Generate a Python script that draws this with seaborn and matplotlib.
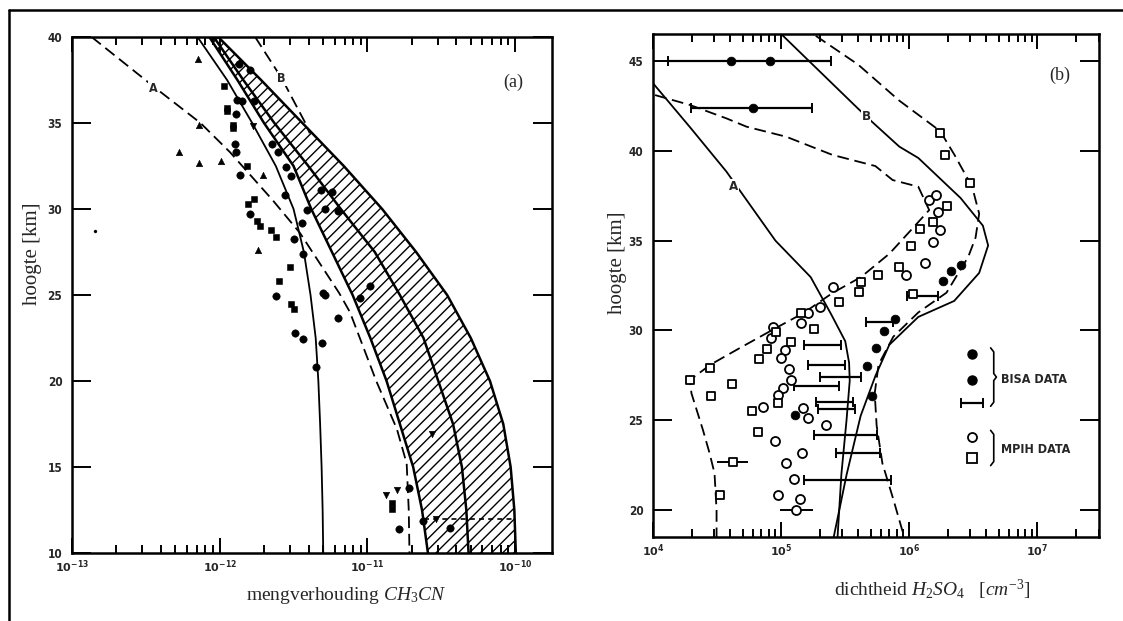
import numpy as np
import matplotlib
matplotlib.use("Agg")
import matplotlib.pyplot as plt
from matplotlib.lines import Line2D
from matplotlib.ticker import LogLocator, NullFormatter
import seaborn as sns

# ---------------------------------------------------------------- data
# (a) CH3CN mixing ratio, log10 values against altitude in km
ch3cn_km = [40, 37.5, 35, 32.5, 30, 27.5, 25, 22.5, 20, 17.5, 15, 12.5, 10]
ch3cn_c = [-12.15, -11.95, -11.78, -11.62, -11.50, -11.43, -11.385, -11.35,
           -11.332, -11.32, -11.31, -11.303, -11.299]
ch3cn_lo = [-12.07, -11.88, -11.70, -11.50, -11.38, -11.24, -11.10, -10.98,
            -10.87, -10.78, -10.69, -10.63, -10.59]
ch3cn_mid = [-12.04, -11.84, -11.63, -11.40, -11.18, -10.95, -10.78, -10.62,
             -10.52, -10.42, -10.36, -10.33, -10.315]
ch3cn_hi = [-12.01, -11.72, -11.44, -11.16, -10.90, -10.67, -10.46, -10.30,
            -10.17, -10.08, -10.03, -10.005, -9.995]
ch3cn_a_km = [40, 37, 35, 33.3, 30.5, 28.6, 25.1, 24, 20, 17.2, 15.2, 12.5, 10]
ch3cn_a = [-12.867, -12.43, -12.13, -11.93, -11.64, -11.456, -11.19, -11.118,
           -10.94, -10.80, -10.734, -10.72, -10.715]
ch3cn_b_km = [40, 37.6, 35, 34.4]
ch3cn_b = [-11.76, -11.58, -11.42, -11.39]
ch3cn_h_km = [12.0, 12.0]
ch3cn_h = [-10.62, -10.0]

obs_circle_x = [-11.87, -11.795, -11.885, -11.85, -11.77, -11.89, -11.896,
                -11.89, -11.648, -11.603, -11.55, -11.52, -11.86, -11.558,
                -11.407, -11.795, -11.44, -11.50, -11.438, -11.298, -11.62,
                -11.29, -11.20, -11.49, -11.434, -11.31, -11.35, -11.316,
                -11.24, -11.287, -11.197, -11.05, -10.98, -10.717, -10.785,
                -10.626, -10.44]
obs_circle_y = [38.43, 38.08, 36.36, 36.3, 36.3, 35.5, 33.8, 33.3, 33.8, 33.3,
                32.45, 31.9, 32.0, 30.8, 29.95, 29.7, 29.2, 28.25, 27.4, 25.1,
                24.94, 25.0, 23.64, 22.8, 22.44, 22.22, 20.83, 31.1, 31.0,
                29.98, 29.9, 24.84, 25.5, 13.76, 11.38, 11.88, 11.44]
obs_square_x = [-11.97, -11.953, -11.953, -11.908, -11.908, -11.813, -11.77,
                -11.805, -11.75, -11.73, -11.65, -11.62, -11.524, -11.597,
                -11.52, -11.50, -10.836, -10.836]
obs_square_y = [37.15, 35.9, 35.7, 34.9, 34.7, 32.5, 30.6, 30.3, 29.3, 29.0,
                28.8, 28.4, 26.6, 25.8, 24.5, 24.2, 12.9, 12.55]
obs_tri_x = [-12.149, -12.138, -12.275, -12.138, -11.99, -11.71, -11.74]
obs_tri_y = [38.73, 34.9, 33.3, 32.7, 32.8, 32.0, 27.6]
obs_tridown_x = [-11.775, -10.565, -10.875, -10.80, -10.536]
obs_tridown_y = [34.85, 16.9, 13.4, 13.66, 12.0]
obs_dot_x = [-12.846]
obs_dot_y = [28.73]

# (b) H2SO4 number density, log10 cm^-3 against altitude in km
h2so4_a_km = [43.76, 41.3, 38.84, 37.26, 35.0, 32.97, 30.9, 29.4, 28.2, 27.2,
              25.0, 22.0, 18.5]
h2so4_a = [4.0, 4.29, 4.573, 4.73, 4.955, 5.23, 5.39, 5.50, 5.53, 5.535, 5.51,
           5.47, 5.44]
h2so4_b_km = [46.5, 42.45, 41.8, 40.23, 39.6, 37.37, 35.83, 34.73, 33.2, 31.64,
              30.75, 29.2, 27.46, 25.24, 21.95, 18.5]
h2so4_b = [5.0, 5.585, 5.68, 5.922, 6.07, 6.40, 6.574, 6.615, 6.545, 6.35,
           6.07, 5.844, 5.735, 5.62, 5.51, 5.41]
h2so4_up_km = [46.4, 44.8, 42.8, 41.1, 39.8, 38.0, 36.5, 35.17, 34.1, 32.1,
               31.0, 29.65, 28.1, 26.5, 24.7, 22.6, 20.6, 18.5]
h2so4_up = [5.27, 5.60, 5.92, 6.24, 6.35, 6.49, 6.545, 6.517, 6.46, 6.29,
            6.07, 5.875, 5.76, 5.73, 5.745, 5.79, 5.875, 5.96]
h2so4_low_km = [43.1, 42.55, 41.8, 41.34, 40.78, 39.77, 39.15, 38.37, 38.0,
                36.7, 35.6, 34.28, 32.97, 32.08, 30.97, 30.1, 28.99, 28.1,
                27.24, 26.5, 24.45, 23.2, 22.05, 20.0, 18.5]
h2so4_low = [4.016, 4.288, 4.574, 4.73, 5.04, 5.40, 5.735, 5.87, 6.07, 6.155,
             6.015, 5.846, 5.623, 5.40, 5.175, 4.95, 4.67, 4.45, 4.288, 4.30,
             4.39, 4.44, 4.48, 4.496, 4.496]

bisa_x = [4.605, 4.91, 4.78, 6.406, 6.322, 6.26, 5.889, 5.805, 5.741, 5.671,
          5.707, 5.107]
bisa_y = [45.0, 45.0, 42.37, 33.66, 33.29, 32.74, 30.65, 29.98, 29.04, 28.0,
          26.35, 25.3]
bisa_bar_km = [45.0, 42.37, 31.9, 30.48, 29.2, 28.1, 27.4, 26.9, 26.0, 25.6,
               24.2, 23.2, 21.7]
bisa_bar_lo = [4.12, 4.30, 5.98, 5.66, 5.18, 5.21, 5.30, 5.10, 5.27, 5.29,
               5.26, 5.43, 5.18]
bisa_bar_hi = [5.39, 5.24, 6.22, 5.87, 5.47, 5.50, 5.62, 5.45, 5.56, 5.58,
               5.75, 5.77, 5.86]

mpih_circle_x = [5.403, 5.30, 5.21, 5.157, 4.936, 4.92, 5.027, 5.0, 5.061,
                 5.08, 5.015, 4.975, 4.86, 5.17, 5.21, 5.35, 4.95, 5.162,
                 5.04, 5.10, 4.975, 5.15, 5.118, 6.154, 6.21, 6.224, 6.238,
                 6.182, 6.12, 5.973]
mpih_circle_y = [32.43, 31.32, 30.95, 30.4, 30.2, 29.55, 28.9, 28.44, 27.83,
                 27.24, 26.78, 26.4, 25.72, 25.66, 25.1, 24.73, 23.86, 23.19,
                 22.63, 21.73, 20.84, 20.6, 20.0, 37.26, 37.54, 36.6, 35.6,
                 34.9, 33.73, 33.07]
mpih_square_x = [4.288, 4.443, 4.62, 4.45, 4.773, 4.82, 4.825, 4.893, 5.08,
                 4.975, 4.962, 5.157, 5.26, 5.455, 5.611, 5.624, 4.52, 4.625,
                 6.238, 6.28, 6.47, 6.294, 6.182, 6.085, 6.015, 5.917, 5.757,
                 6.03]
mpih_square_y = [27.24, 27.89, 26.99, 26.36, 25.5, 24.36, 28.4, 28.96, 29.37,
                 25.94, 29.93, 30.95, 30.1, 31.6, 32.16, 32.7, 20.84, 22.7,
                 41.0, 39.75, 38.2, 36.93, 36.05, 35.65, 34.68, 33.51, 33.11,
                 32.0]
mpih_bar_km = [22.7, 20.0]
mpih_bar_lo = [4.50, 4.99]
mpih_bar_hi = [4.74, 5.25]

xticks_a = [-13, -12, -11, -10]
xticks_b = [4, 5, 6, 7]
yticks_a = [10, 15, 20, 25, 30, 35, 40]
yticks_b = [20, 25, 30, 35, 40, 45]

# ---------------------------------------------------------------- style
sns.set_theme(style="ticks")
plt.rcParams.update({
    "font.family": ["Liberation Serif", "DejaVu Serif"],
    "mathtext.fontset": "custom",
    "mathtext.rm": "Liberation Serif",
    "mathtext.it": "Liberation Serif:italic",
    "mathtext.bf": "DejaVu Sans:bold",
    "hatch.linewidth": 1.0,
    "axes.edgecolor": "black",
    "axes.linewidth": 1.8,
})

SANS = dict(family="DejaVu Sans", weight="bold", stretch="condensed")
W, H = 1123, 621
fig = plt.figure(figsize=(W / 100, H / 100), dpi=100)
fig.patch.set_facecolor("white")

ax1 = fig.add_axes([72 / W, 1 - 553 / H, 480 / W, 516 / H])
ax2 = fig.add_axes([653 / W, 1 - 537 / H, 446 / W, 503 / H])


def p10(v):
    return np.power(10.0, np.asarray(v, dtype=float))


DASH = (0, (6.5, 3.2))
K = "black"


def line(ax, xs, ys, lw=1.3, ls="-"):
    sns.lineplot(x=p10(xs), y=ys, sort=False, estimator=None, color=K,
                 linewidth=lw, linestyle=ls, ax=ax, legend=False)


def dress(ax, xt, yt, xlim, ylim):
    ax.set_xscale("log")
    ax.set_xlim(*xlim)
    ax.set_ylim(*ylim)
    ax.set_xticks(p10(xt))
    ax.set_xticklabels([r"$\mathbf{10^{%d}}$" % v for v in xt], fontsize=8)
    ax.xaxis.set_minor_locator(LogLocator(base=10, subs=np.arange(2, 10)))
    ax.xaxis.set_minor_formatter(NullFormatter())
    ax.set_yticks(yt)
    ax.set_yticklabels([str(v) for v in yt], fontdict=dict(size=8.5, **SANS))
    for s in ax.spines.values():
        s.set_visible(True)
        s.set_linewidth(1.8)
        s.set_color(K)
    ax.tick_params(which="both", direction="in", top=True, right=True,
                   color=K, width=1.4)
    ax.tick_params(which="major", length=11)
    ax.tick_params(axis="y", which="major", length=14, pad=7)
    ax.tick_params(axis="x", which="major", pad=4)
    ax.tick_params(which="minor", length=6)
    ax.set_xlabel("")
    ax.set_ylabel("")
    ax.grid(False)


# ---------------------------------------------------------------- panel (a)
ax1.set_xscale("log")
ax1.fill_betweenx(ch3cn_km, p10(ch3cn_lo), p10(ch3cn_hi), facecolor="none",
                  edgecolor=K, hatch="///", linewidth=0)
line(ax1, ch3cn_lo, ch3cn_km, lw=1.8)
line(ax1, ch3cn_mid, ch3cn_km, lw=1.8)
line(ax1, ch3cn_hi, ch3cn_km, lw=1.8)
line(ax1, ch3cn_c, ch3cn_km, lw=1.3)
line(ax1, ch3cn_a, ch3cn_a_km, lw=1.3, ls=DASH)
line(ax1, ch3cn_b, ch3cn_b_km, lw=1.3, ls=DASH)
line(ax1, ch3cn_h, ch3cn_h_km, lw=1.2, ls=(0, (3, 2.5)))

sns.scatterplot(x=p10(obs_circle_x), y=obs_circle_y, marker="o", s=28,
                color=K, edgecolor=K, ax=ax1, zorder=4)
sns.scatterplot(x=p10(obs_square_x), y=obs_square_y, marker="s", s=24,
                color=K, edgecolor=K, ax=ax1, zorder=4)
sns.scatterplot(x=p10(obs_tri_x), y=obs_tri_y, marker="^", s=22,
                color=K, edgecolor=K, ax=ax1, zorder=4)
sns.scatterplot(x=p10(obs_tridown_x), y=obs_tridown_y, marker="v", s=22,
                color=K, edgecolor=K, ax=ax1, zorder=4)
sns.scatterplot(x=p10(obs_dot_x), y=obs_dot_y, marker="o", s=5,
                color=K, edgecolor=K, ax=ax1, zorder=4)

lab_box = dict(facecolor="white", edgecolor="none", pad=0.6)
ax1.text(p10(-12.45), 37.0, "A", fontdict=dict(size=9, **SANS), ha="center",
         va="center", bbox=lab_box, zorder=5)
ax1.text(p10(-11.58), 37.6, "B", fontdict=dict(size=9, **SANS), ha="center",
         va="center", bbox=lab_box, zorder=5)
ax1.text(0.92, 0.912, "(a)", transform=ax1.transAxes, fontsize=13,
         ha="center", va="center")
dress(ax1, xticks_a, yticks_a, (1e-13, 10 ** -9.75), (10, 40))

# ---------------------------------------------------------------- panel (b)
ax2.set_xscale("log")
line(ax2, h2so4_a, h2so4_a_km, lw=1.3)
line(ax2, h2so4_b, h2so4_b_km, lw=1.3)
line(ax2, h2so4_up, h2so4_up_km, lw=1.3, ls=DASH)
line(ax2, h2so4_low, h2so4_low_km, lw=1.3, ls=DASH)

lo = p10(bisa_bar_lo)
hi = p10(bisa_bar_hi)
mid = np.sqrt(lo * hi)
ax2.errorbar(mid, bisa_bar_km, xerr=[mid - lo, hi - mid], fmt="none",
             ecolor=K, elinewidth=1.6, capsize=3.5, capthick=1.4, zorder=3)
mlo = p10(mpih_bar_lo)
mhi = p10(mpih_bar_hi)
mmid = np.sqrt(mlo * mhi)
ax2.errorbar(mmid, mpih_bar_km, xerr=[mmid - mlo, mhi - mmid], fmt="none",
             ecolor=K, elinewidth=1.4, capsize=0, zorder=3)

sns.scatterplot(x=p10(mpih_circle_x), y=mpih_circle_y, marker="o", s=42,
                color="white", edgecolor=K, linewidth=1.3, ax=ax2, zorder=4)
sns.scatterplot(x=p10(mpih_square_x), y=mpih_square_y, marker="s", s=40,
                color="white", edgecolor=K, linewidth=1.3, ax=ax2, zorder=4)
sns.scatterplot(x=p10(bisa_x), y=bisa_y, marker="o", s=40, color=K,
                edgecolor=K, ax=ax2, zorder=5)

ax2.text(p10(4.625), 38.0, "A", fontdict=dict(size=9.5, **SANS), ha="center",
         va="center", bbox=lab_box, zorder=5)
ax2.text(p10(5.663), 41.9, "B", fontdict=dict(size=9.5, **SANS), ha="center",
         va="center", bbox=lab_box, zorder=5)
ax2.text(0.913, 0.918, "(b)", transform=ax2.transAxes, fontsize=13,
         ha="center", va="center")

# key for the two data sets
T = ax2.transAxes
ax2.plot([0.715], [0.364], "o", ms=6.5, color=K, transform=T, clip_on=False)
ax2.plot([0.715], [0.312], "o", ms=6.5, color=K, transform=T, clip_on=False)
ax2.plot([0.691, 0.739], [0.266, 0.266], color=K, lw=1.6, marker="|", ms=7,
         mew=1.4, transform=T)
ax2.plot([0.715], [0.198], "o", ms=6.5, mfc="white", mec=K, mew=1.3,
         transform=T)
ax2.plot([0.715], [0.157], "s", ms=6.5, mfc="white", mec=K, mew=1.3,
         transform=T)
ax2.plot([0.757, 0.764, 0.764, 0.770, 0.764, 0.764, 0.757],
         [0.376, 0.368, 0.325, 0.318, 0.311, 0.268, 0.260],
         color=K, lw=1.2, transform=T)
ax2.plot([0.757, 0.764, 0.764, 0.757], [0.212, 0.204, 0.150, 0.142],
         color=K, lw=1.2, transform=T)
ax2.text(0.78, 0.313, "BISA DATA", transform=T, va="center", ha="left",
         fontdict=dict(size=9, **SANS))
ax2.text(0.78, 0.174, "MPIH DATA", transform=T, va="center", ha="left",
         fontdict=dict(size=9, **SANS))
dress(ax2, xticks_b, yticks_b, (1e4, 10 ** 7.48), (18.5, 46.5))

# ---------------------------------------------------------------- labels
fig.text(33 / W, 1 - 254 / H, "hoogte [km]", rotation=90, ha="center",
         va="center", fontsize=15)
fig.text(617 / W, 1 - 263 / H, "hoogte [km]", rotation=90, ha="center",
         va="center", fontsize=15)
fig.text(346 / W, 1 - 596 / H, r"mengverhouding $CH_3CN$", ha="center",
         va="center", fontsize=14)
fig.text(932 / W, 1 - 590 / H, r"dichtheid $H_2SO_4$   [$cm^{-3}$]",
         ha="center", va="center", fontsize=14)

# outer frame
fig.add_artist(Line2D([9 / W, 1.0], [1 - 10 / H] * 2, transform=fig.transFigure,
                      color=K, lw=1.8))
fig.add_artist(Line2D([9 / W] * 2, [0.0, 1 - 10 / H], transform=fig.transFigure,
                      color=K, lw=1.8))

fig.savefig("out.png", dpi=100, facecolor="white")
